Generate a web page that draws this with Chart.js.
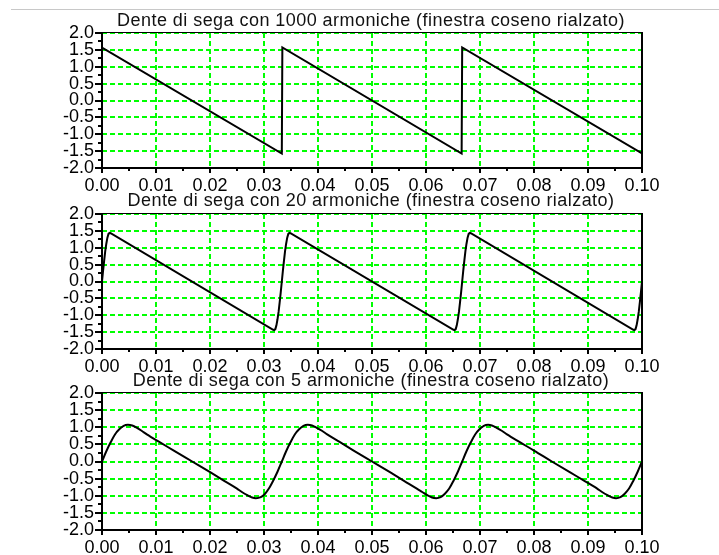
<!DOCTYPE html>
<html>
<head>
<meta charset="utf-8">
<script src="https://cdn.jsdelivr.net/npm/chart.js@4/dist/chart.umd.min.js"></script>
<style>
  html, body { margin: 0; padding: 0; background: #fff; }
  #wrap { position: relative; width: 719px; height: 555px; overflow: hidden; background: #fff; }
  #wrap canvas { position: absolute; left: 0; top: 0; }
  #rule { position: absolute; left: 11px; top: 9px; width: 708px; height: 1px; background: #c8c8c8; }
</style>
</head>
<body>
<div id="wrap">
  <div id="rule"></div>
  <canvas id="c1" width="719" height="555"></canvas>
  <canvas id="c2" width="719" height="555"></canvas>
  <canvas id="c3" width="719" height="555"></canvas>
</div>
<script>
// Subplot titles
const titles = [
  'Dente di sega con 1000 armoniche (finestra coseno rialzato)',
  'Dente di sega con 20 armoniche (finestra coseno rialzato)',
  'Dente di sega con 5 armoniche (finestra coseno rialzato)'
];

// Tick labels
const xTickLabels = ['0.00', '0.01', '0.02', '0.03', '0.04', '0.05', '0.06', '0.07', '0.08', '0.09', '0.10'];
const yTickLabels = ['-2.0', '-1.5', '-1.0', '-0.5', '0.0', '0.5', '1.0', '1.5', '2.0'];

// 1000 harmonics: practically the ideal sawtooth
const t1000 = [0, 0.0333, 0.0334, 0.0666, 0.0667, 0.1];
const v1000 = [1.57, -1.57, 1.57, -1.57, 1.57, -1.57];

// 20 harmonics: steep but smooth edges at every jump
const t20 = [
  0, 0.0002, 0.0004, 0.0006, 0.0008, 0.0010, 0.0012, 0.0014, 0.0016,
  0.0317, 0.0319, 0.0321, 0.0323, 0.0325, 0.0327, 0.0329, 0.0331, 0.0333,
  0.0335, 0.0337, 0.0339, 0.0341, 0.0343, 0.0345, 0.0347, 0.0349,
  0.0651, 0.0653, 0.0655, 0.0657, 0.0659, 0.0661, 0.0663, 0.0665, 0.0667,
  0.0669, 0.0671, 0.0673, 0.0675, 0.0677, 0.0679, 0.0681, 0.0683,
  0.0984, 0.0986, 0.0988, 0.0990, 0.0992, 0.0994, 0.0996, 0.0998, 0.1000
];
const v20 = [
  0, 0.32, 0.62, 0.90, 1.12, 1.30, 1.41, 1.44, 1.43,
  -1.43, -1.44, -1.41, -1.30, -1.12, -0.90, -0.62, -0.32, 0,
  0.32, 0.62, 0.90, 1.12, 1.30, 1.41, 1.44, 1.43,
  -1.43, -1.44, -1.41, -1.30, -1.12, -0.90, -0.62, -0.32, 0,
  0.32, 0.62, 0.90, 1.12, 1.30, 1.41, 1.44, 1.43,
  -1.43, -1.44, -1.41, -1.30, -1.12, -0.90, -0.62, -0.32, 0
];

// 5 harmonics: rounded wave
const t5 = [
  0, 0.0008, 0.0016, 0.0024, 0.0032, 0.0040, 0.0048, 0.0056, 0.0064, 0.0074, 0.0083, 0.0106, 0.0133,
  0.0167, 0.0201, 0.0227, 0.0250, 0.0259, 0.0270, 0.0278, 0.0285, 0.0294, 0.0302, 0.0309, 0.0317, 0.0325,
  0.0333, 0.0341, 0.0349, 0.0357, 0.0365, 0.0373, 0.0381, 0.0389, 0.0397, 0.0408, 0.0417, 0.0440, 0.0466,
  0.0500, 0.0534, 0.0560, 0.0583, 0.0593, 0.0603, 0.0611, 0.0619, 0.0627, 0.0635, 0.0643, 0.0651, 0.0659,
  0.0667, 0.0675, 0.0683, 0.0691, 0.0699, 0.0707, 0.0715, 0.0722, 0.0730, 0.0741, 0.0750, 0.0773, 0.0800,
  0.0833, 0.0867, 0.0894, 0.0917, 0.0926, 0.0937, 0.0945, 0.0952, 0.0960, 0.0968, 0.0976, 0.0984, 0.0992,
  0.1000
];
const v5 = [
  0, 0.30, 0.56, 0.79, 0.94, 1.04, 1.07, 1.05, 0.99, 0.89, 0.79, 0.57, 0.32,
  0, -0.32, -0.57, -0.79, -0.89, -0.99, -1.05, -1.07, -1.04, -0.94, -0.79, -0.56, -0.30,
  0, 0.30, 0.56, 0.79, 0.94, 1.04, 1.07, 1.05, 0.99, 0.89, 0.79, 0.57, 0.32,
  0, -0.32, -0.57, -0.79, -0.89, -0.99, -1.05, -1.07, -1.04, -0.94, -0.79, -0.56, -0.30,
  0, 0.30, 0.56, 0.79, 0.94, 1.04, 1.07, 1.05, 0.99, 0.89, 0.79, 0.57, 0.32,
  0, -0.32, -0.57, -0.79, -0.89, -0.99, -1.05, -1.07, -1.04, -0.94, -0.79, -0.56, -0.30,
  0
];

const FONT = '"Liberation Sans", Arial, Helvetica, sans-serif';
Chart.defaults.font.family = FONT;
Chart.defaults.font.size = 18;
Chart.defaults.color = '#000';

// Axis frame, tick marks (major + minor) and the subplot title
const framePlugin = {
  id: 'frame',
  afterDraw(chart, args, opts) {
    const { ctx, chartArea: a, scales: { x, y } } = chart;
    ctx.save();
    ctx.strokeStyle = '#000';
    ctx.lineWidth = 2;
    ctx.beginPath();
    const xt = x.ticks.map(t => t.value);
    xt.forEach((v, i) => {
      const px = Math.round(x.getPixelForValue(v));
      ctx.moveTo(px, a.bottom); ctx.lineTo(px, a.bottom + 5);
      if (i < xt.length - 1) {
        const pm = Math.round(x.getPixelForValue((v + xt[i + 1]) / 2));
        ctx.moveTo(pm, a.bottom); ctx.lineTo(pm, a.bottom + 3);
      }
    });
    const yt = y.ticks.map(t => t.value);
    yt.forEach((v, i) => {
      const py = Math.round(y.getPixelForValue(v));
      ctx.moveTo(a.left, py); ctx.lineTo(a.left - 7, py);
      if (i < yt.length - 1) {
        const pm = Math.round(y.getPixelForValue((v + yt[i + 1]) / 2));
        ctx.moveTo(a.left, pm); ctx.lineTo(a.left - 4, pm);
      }
    });
    ctx.stroke();

    // frame: heavy left / bottom / right, light top
    ctx.beginPath();
    ctx.lineWidth = 2;
    ctx.moveTo(a.left, a.top - 1); ctx.lineTo(a.left, a.bottom + 1);
    ctx.moveTo(a.left - 1, a.bottom); ctx.lineTo(a.right + 1, a.bottom);
    ctx.moveTo(a.right, a.top - 1); ctx.lineTo(a.right, a.bottom + 1);
    ctx.stroke();
    ctx.beginPath();
    ctx.lineWidth = 1;
    ctx.moveTo(a.left, a.top - 0.5); ctx.lineTo(a.right, a.top - 0.5);
    ctx.stroke();

    // title
    ctx.font = '18px ' + FONT;
    ctx.letterSpacing = '0.45px';
    ctx.fillStyle = '#111';
    ctx.textAlign = 'center';
    ctx.textBaseline = 'alphabetic';
    ctx.fillText(opts.text, (a.left + a.right) / 2 - 1, a.top - opts.gap);
    ctx.restore();
  }
};

const X_AXIS_H = 25;

function makeChart(id, xs, ys, title, top, bottom, gap, smooth) {
  const gridOpts = { color: '#00ff00', lineWidth: 2, drawTicks: false };
  const borderOpts = { display: false, dash: [5, 3] };
  return new Chart(document.getElementById(id), {
    type: 'line',
    data: {
      datasets: [{
        data: xs.map((t, i) => ({ x: t, y: ys[i] })),
        borderColor: '#000',
        borderWidth: 2,
        pointRadius: 0,
        fill: false,
        tension: 0,
        cubicInterpolationMode: smooth ? 'monotone' : 'default'
      }]
    },
    options: {
      responsive: false,
      animation: false,
      devicePixelRatio: 1,
      layout: { padding: { left: 0, right: 77, top: top, bottom: 555 - bottom - X_AXIS_H } },
      plugins: {
        legend: { display: false },
        tooltip: { enabled: false },
        frame: { text: title, gap: gap }
      },
      scales: {
        x: {
          type: 'linear', min: 0, max: 0.1,
          afterFit(s) { s.height = X_AXIS_H; },
          ticks: { stepSize: 0.01, autoSkip: false, maxRotation: 0, padding: 7,
                   callback: (v, i) => xTickLabels[i] },
          grid: gridOpts,
          border: borderOpts
        },
        y: {
          type: 'linear', min: -2, max: 2,
          afterFit(s) { s.width = 102; },
          ticks: { stepSize: 0.5, autoSkip: false, padding: 8,
                   callback: (v, i) => yTickLabels[i] },
          grid: gridOpts,
          border: borderOpts
        }
      }
    },
    plugins: [framePlugin]
  });
}

makeChart('c1', t1000, v1000, titles[0], 33, 168, 7, false);
makeChart('c2', t20, v20, titles[1], 214, 349, 8, false);
makeChart('c3', t5, v5, titles[2], 393, 530, 7, true);
</script>
</body>
</html>
